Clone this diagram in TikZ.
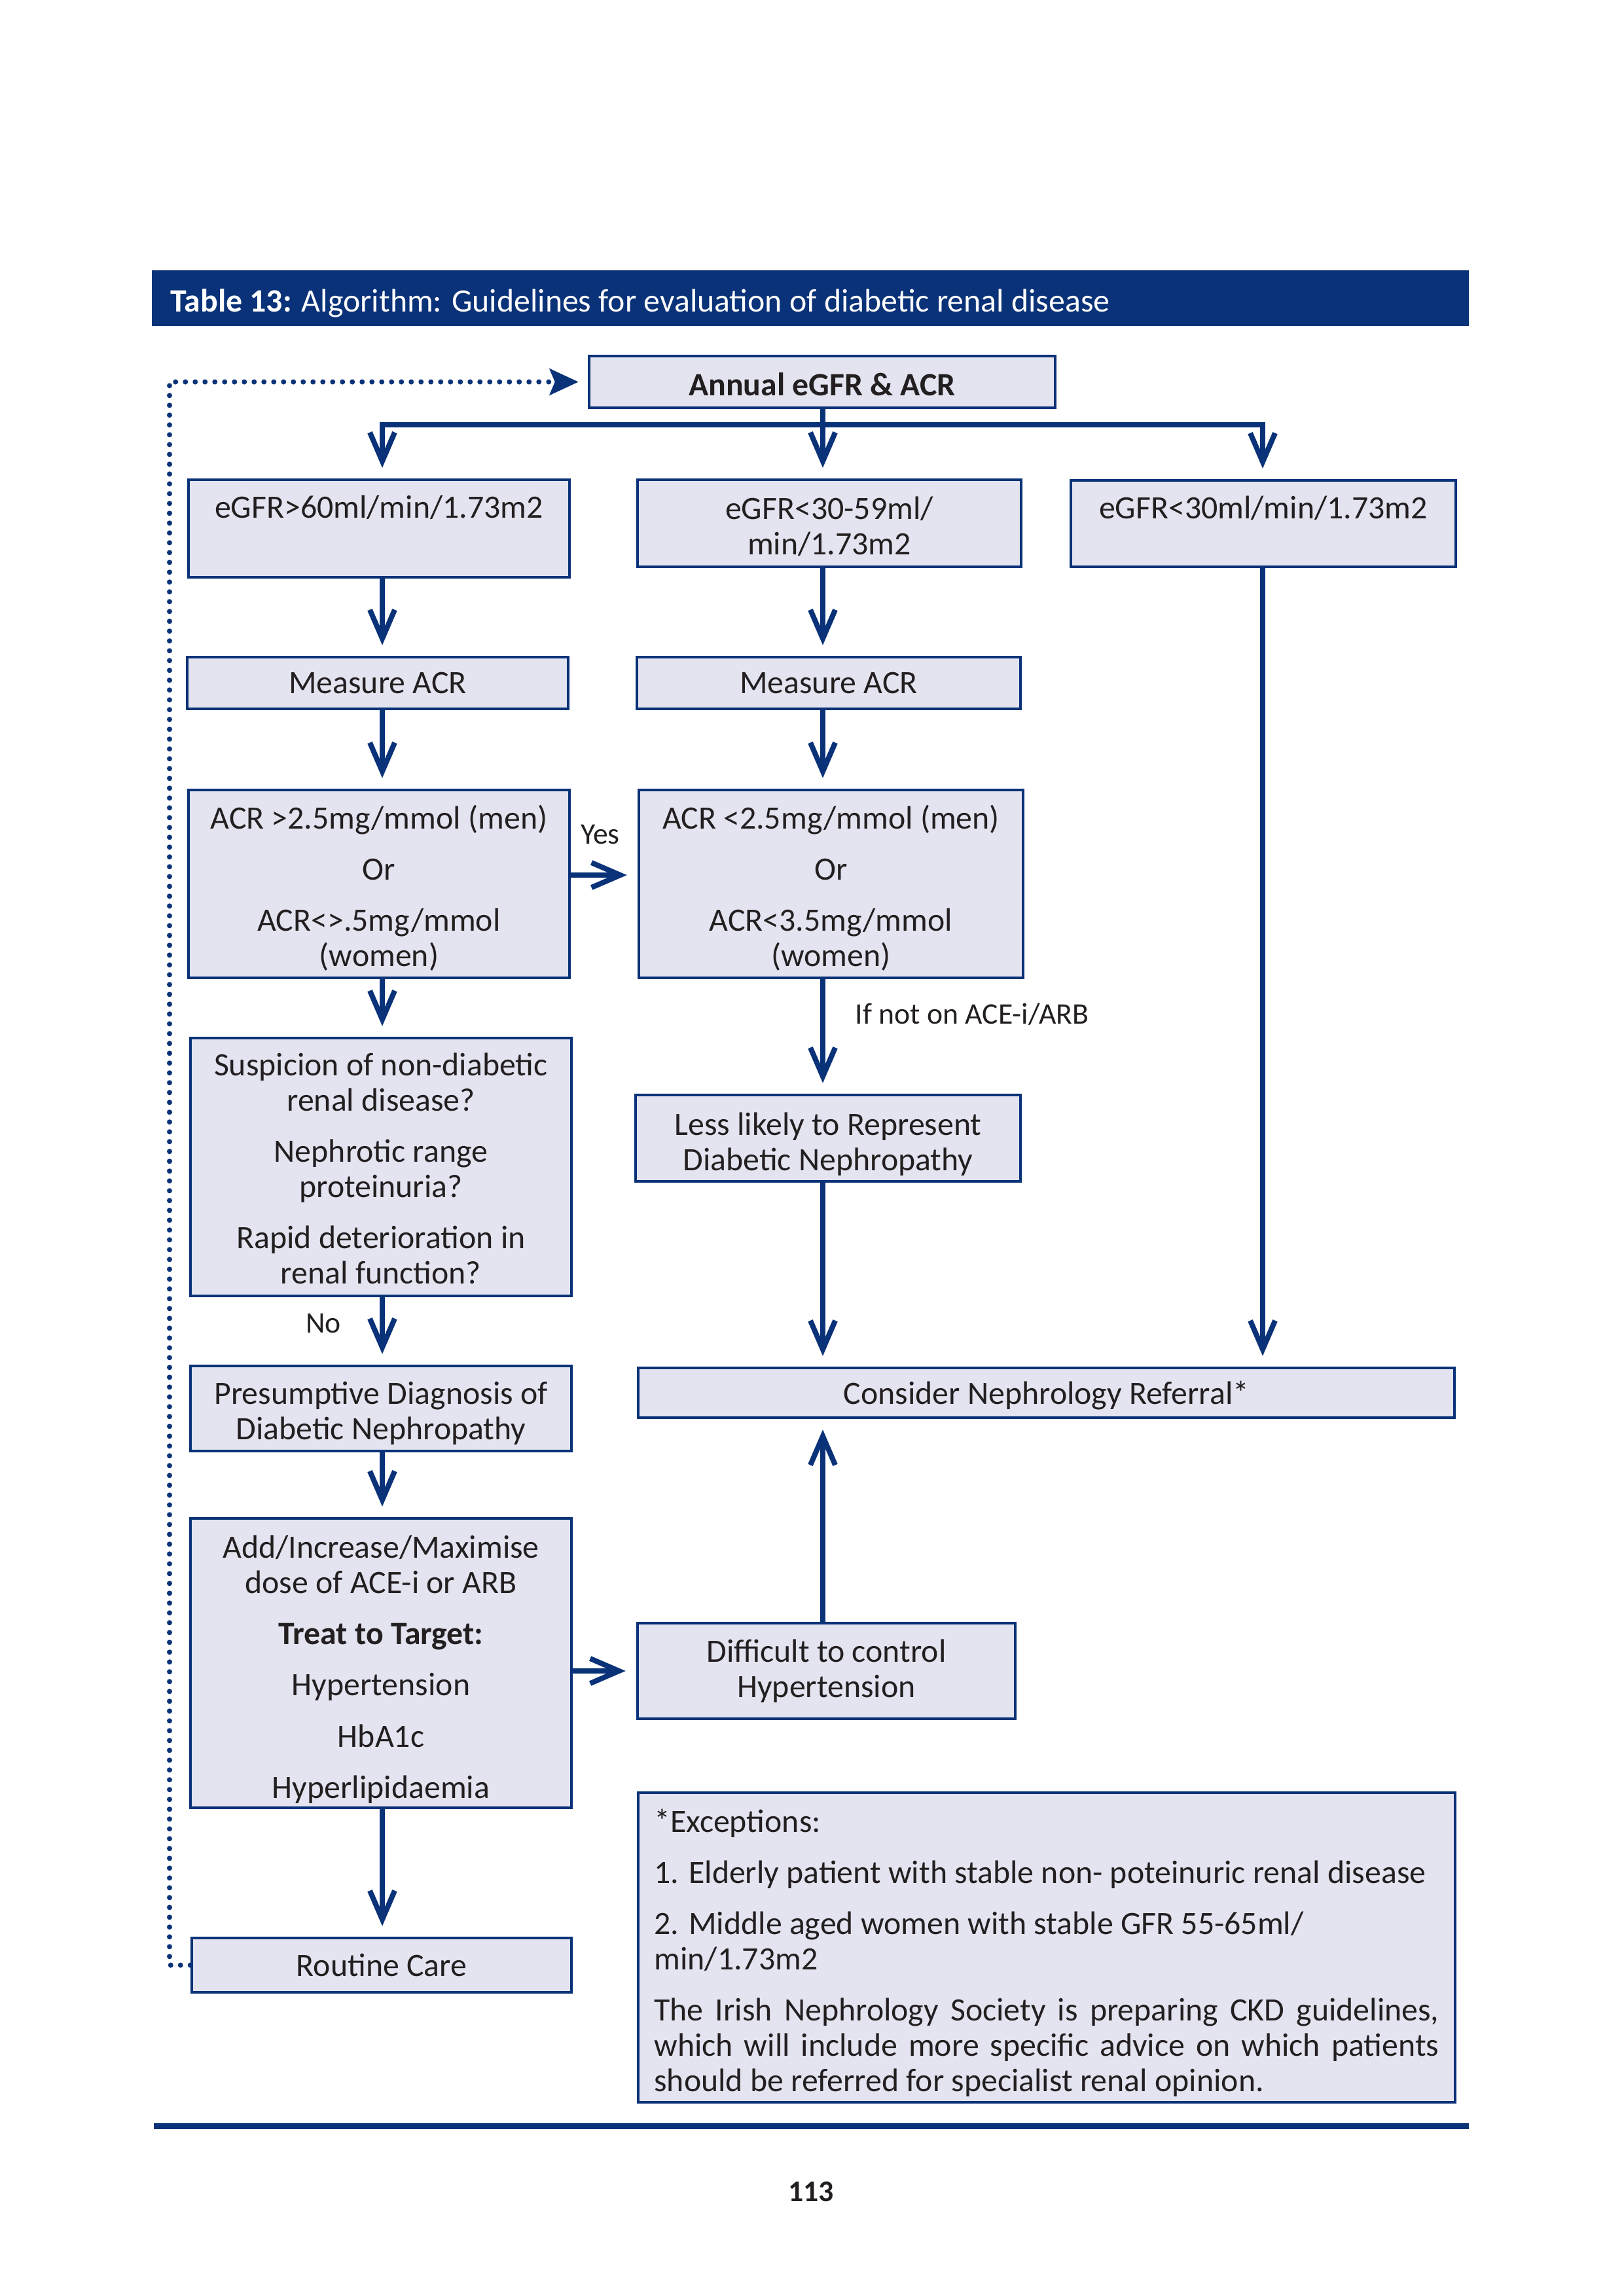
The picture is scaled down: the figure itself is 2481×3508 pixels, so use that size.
\documentclass[tikz,border=0pt]{standalone}
\usepackage{fontspec}
\setmainfont{Carlito}
\usetikzlibrary{arrows.meta}
\newdimen\pu \pu=0.2409pt
\definecolor{navy}{RGB}{10,50,120}
\definecolor{boxfill}{RGB}{227,228,240}
\definecolor{txt}{RGB}{35,31,32}
\newcommand\bodyfont{\fontsize{12}{13}\selectfont}
\newcommand\labfont{\fontsize{11}{13}\selectfont}
\newcommand\pgap{\\[5.8pt]}
\newcommand\up[1]{\rule{0pt}{#1}}
\newcommand\justline[1]{\makebox[1199\pu][s]{#1}}
\tikzset{
  flowbox/.style={draw=navy, fill=boxfill, line width=4.5\pu, align=center, inner sep=0pt, text=txt, font=\bodyfont},
  conn/.style={draw=navy, line width=8\pu},
  busline/.style={draw=navy, line width=8\pu, line cap=rect},
  arr/.style={draw=navy, line width=8\pu, shorten >=16\pu, -{Straight Barb[length=10.6pt,width=9.15pt,line width=1.93pt]}},
  dotline/.style={draw=navy, line width=8\pu, line cap=round, dash pattern=on 0pt off 15\pu, shorten >=14\pu, -{Stealth[length=10.6pt,width=9.64pt,inset=1.93pt]}},
  lab/.style={text=txt, font=\labfont, inner sep=0pt}
}
\begin{document}
\begin{tikzpicture}[x=0.2409pt,y=-0.2409pt]
\useasboundingbox (0,0) rectangle (2481,3508);
% header
\fill[navy] (232,413) rectangle (2244,498);
\node[anchor=west, text=white, font=\bodyfont, inner sep=0pt] (title) at (260,463) {\textbf{Table 13:} Algorithm: Guidelines for evaluation of diabetic renal disease};
% boxes
\node[flowbox, minimum width=712\pu, minimum height=79\pu] (annual) at (1256,583.5) {\up{10.4pt}\textbf{Annual eGFR \& ACR}};
\node[flowbox, minimum width=582\pu, minimum height=149\pu] (egfr1) at (579,807.5) {\strut eGFR>60ml/min/1.73m2\\\strut};
\node[flowbox, minimum width=586\pu, minimum height=133\pu] (egfr2) at (1267,799.5) {\up{10.6pt}eGFR<30-59ml/\\min/1.73m2};
\node[flowbox, minimum width=588\pu, minimum height=132\pu] (egfr3) at (1930,800) {\strut eGFR<30ml/min/1.73m2\\[-4.4pt]\strut};
\node[flowbox, minimum width=582\pu, minimum height=79\pu] (meas1) at (577,1043.5) {Measure ACR};
\node[flowbox, minimum width=586\pu, minimum height=79\pu] (meas2) at (1266,1043.5) {Measure ACR};
\node[flowbox, minimum width=582\pu, minimum height=287\pu] (acr1) at (579,1350.5) {\up{11.7pt}ACR >2.5mg/mmol (men)\pgap Or\pgap ACR<>.5mg/mmol\\(women)};
\node[flowbox, minimum width=587\pu, minimum height=287\pu] (acr2) at (1269.5,1350.5) {\up{11.7pt}ACR <2.5mg/mmol (men)\pgap Or\pgap ACR<3.5mg/mmol\\(women)};
\node[flowbox, minimum width=582\pu, minimum height=394\pu] (susp) at (582,1783) {\up{9.4pt}Suspicion of non-diabetic\\renal disease?\pgap Nephrotic range\\proteinuria?\pgap Rapid deterioration in\\renal function?};
\node[flowbox, minimum width=588\pu, minimum height=132\pu] (less) at (1265,1739) {\up{12.8pt}Less likely to Represent\\Diabetic Nephropathy};
\node[flowbox, minimum width=582\pu, minimum height=130\pu] (presump) at (582,2152) {\up{11.6pt}Presumptive Diagnosis of\\Diabetic Nephropathy};
\node[flowbox, minimum width=1247\pu, minimum height=76\pu] (consider) at (1598.5,2128) {\up{10.6pt}Consider Nephrology Referral*};
\node[flowbox, minimum width=582\pu, minimum height=442\pu] (add) at (582,2541) {\up{13pt}Add/Increase/Maximise\\dose of ACE-i or ARB\pgap \textbf{Treat to Target:}\pgap Hypertension\pgap HbA1c\pgap Hyperlipidaemia};
\node[flowbox, minimum width=577\pu, minimum height=146\pu] (diff) at (1262.5,2553) {Difficult to control\\Hypertension};
\node[flowbox, align=left, minimum width=1248\pu, minimum height=473\pu] (exc) at (1599,2975.5) {\up{12.7pt}*Exceptions:\pgap
1. Elderly patient with stable non- poteinuric renal disease\pgap
2. Middle aged women with stable GFR 55-65ml/\\
min/1.73m2\pgap
\justline{The Irish Nephrology Society is preparing CKD guidelines,}\\
\justline{which will include more specific advice on which patients}\\
should be referred for specialist renal opinion.};
\node[flowbox, minimum width=580\pu, minimum height=83\pu] (routine) at (583,3002.5) {Routine Care};
% lanes
\coordinate (lx) at (584,0);
\coordinate (mx) at (1257,0);
\coordinate (rx) at (1929,0);
\coordinate (bus) at (0,649);
\coordinate (yy) at (0,1337);
\coordinate (dl) at (259,3002.5);
\coordinate (dt) at (259,583.5);
% connectors
\draw[conn] (annual.south -| mx) -- (bus -| mx);
\draw[busline] (bus -| lx) -- (bus -| rx);
\draw[arr] (bus -| lx) -- (egfr1.north -| lx);
\draw[arr] (bus -| mx) -- (egfr2.north -| mx);
\draw[arr] (bus -| rx) -- (egfr3.north -| rx);
\draw[arr] (egfr1.south -| lx) -- (meas1.north -| lx);
\draw[arr] (meas1.south -| lx) -- (acr1.north -| lx);
\draw[arr] (acr1.south -| lx) -- (susp.north -| lx);
\draw[arr] (susp.south -| lx) -- (presump.north -| lx);
\draw[arr] (presump.south -| lx) -- (add.north -| lx);
\draw[arr] (add.south -| lx) -- (routine.north -| lx);
\draw[arr] (egfr2.south -| mx) -- (meas2.north -| mx);
\draw[arr] (meas2.south -| mx) -- (acr2.north -| mx);
\draw[arr] (acr2.south -| mx) -- (less.north -| mx);
\draw[arr] (less.south -| mx) -- (consider.north -| mx);
\draw[arr] (egfr3.south -| rx) -- (consider.north -| rx);
\draw[arr] (diff.north -| mx) -- (consider.south -| mx);
\draw[arr] (acr1.east |- yy) -- (acr2.west |- yy);
\draw[arr] (add.east |- diff.west) -- (diff.west);
\draw[dotline] (routine.west) -- (dl) -- (dt) -- (annual.west);
% labels
\node[lab] (yes) at (917,1275) {Yes};
\node[lab] (no) at (494,2022) {No};
\node[lab, anchor=west] (ifnot) at (1306,1550) {If not on ACE-i/ARB};
% footer
\fill[navy] (235,3244) rectangle (2244,3253);
\node[text=txt, font=\labfont\bfseries, inner sep=0pt] (pnum) at (1239,3349) {113};
\end{tikzpicture}
\end{document}
